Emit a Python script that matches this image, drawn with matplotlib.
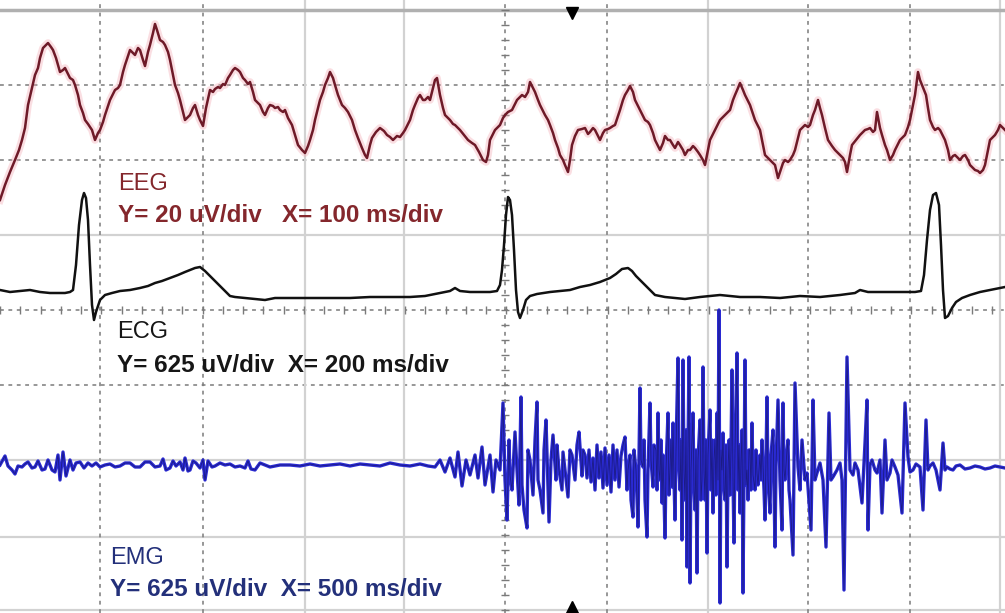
import matplotlib
matplotlib.use("Agg")
import matplotlib.pyplot as plt
import numpy as np

# ---------------- data (screen units) ----------------
eeg_t = [0,5,10,15,19,22,25,28,31,35,38,40,43,46,48,51,53,56,60,63,65,68,70,73,75,78,80,83,85,88,92,95,98,100,103,105,108,110,113,115,118,120,123,125,128,130,133,135,138,140,143,145,148,150,153,155,157,160,163,165,168,170,173,175,178,180,183,185,188,190,193,195,198,200,203,206,210,213,215,218,220,223,225,228,230,233,235,238,240,243,245,248,250,253,255,258,260,263,265,268,270,273,275,278,280,283,285,288,292,295,298,302,305,308,310,313,315,318,320,323,325,328,330,333,335,338,342,345,348,352,355,358,362,365,367,370,372,376,380,384,387,390,393,397,400,403,405,408,410,413,415,418,420,423,425,428,430,433,435,437,440,443,445,448,450,453,455,458,460,464,468,472,475,479,483,486,488,490,493,495,498,500,503,505,508,512,515,517,520,522,525,528,530,533,535,538,540,543,545,548,550,553,555,558,560,563,565,568,570,572,575,578,582,585,588,590,593,595,598,600,603,605,608,610,613,615,618,620,623,625,628,630,633,635,638,640,643,645,648,650,653,655,658,660,663,665,668,670,673,675,678,680,683,685,688,690,693,695,698,700,703,705,708,710,713,715,718,720,723,725,728,730,733,735,738,740,743,745,748,750,753,755,758,760,763,765,768,770,773,775,778,780,783,785,788,790,793,795,798,800,803,805,808,810,813,815,818,820,822,825,828,832,835,838,840,843,845,847,850,852,856,860,863,865,868,870,873,875,877,880,882,885,887,890,893,895,898,900,903,905,908,910,913,915,918,920,922,924,926,928,930,933,935,938,940,943,945,948,950,953,955,958,960,963,965,968,970,973,975,978,980,983,985,988,990,993,995,998,1000,1003,1005]
eeg_v = [200,185,172,160,150,140,128,105,92,75,68,58,48,45,43,47,50,58,72,70,68,74,78,80,85,95,105,113,120,124,130,140,133,130,122,115,106,100,94,90,88,85,72,65,56,50,53,55,48,50,60,66,52,45,33,24,30,40,42,45,52,60,75,85,93,100,112,120,117,115,108,105,115,120,126,108,90,92,89,87,88,84,85,78,75,70,68,70,72,78,80,84,82,92,100,103,105,112,115,108,105,106,108,107,110,112,110,118,125,135,145,150,153,146,140,130,120,108,100,92,85,78,72,78,85,95,105,108,112,120,130,138,148,155,158,145,138,132,128,131,135,137,140,136,137,133,130,124,120,110,105,98,95,100,100,97,100,88,80,78,95,108,115,118,120,124,125,128,130,135,140,143,145,152,160,162,155,140,134,130,127,125,118,115,112,110,104,100,97,95,97,92,82,88,92,100,105,111,115,120,125,133,140,148,155,160,165,172,160,145,136,130,129,128,134,132,128,130,136,140,133,130,129,128,126,125,116,110,100,95,90,86,92,100,106,110,116,120,122,125,133,140,146,150,143,136,140,140,145,148,142,145,150,155,150,150,146,148,152,155,160,165,150,140,134,130,124,120,117,115,112,110,100,95,88,83,90,95,101,105,114,120,126,130,145,155,158,160,163,165,178,172,163,160,162,160,155,150,138,130,127,125,127,125,115,110,100,108,115,128,140,146,150,153,155,158,162,172,155,145,140,135,132,130,129,128,132,130,112,128,135,145,150,160,155,150,144,140,137,135,127,120,105,95,72,80,85,90,95,108,120,127,130,128,130,136,140,150,160,156,155,158,160,156,155,160,165,168,170,171,173,170,165,150,140,137,135,130,125,128,130]

ecg_t = [0,10,20,30,40,50,60,65,70,73,76,79,82,84,86,88,90,92,94,96,100,105,112,120,130,140,148,155,162,170,178,185,190,195,200,205,210,215,220,225,230,235,245,255,265,275,290,310,330,350,370,390,410,425,440,450,455,460,470,480,490,497,500,502,504,506,508,510,512,514,516,518,520,523,526,530,537,550,560,570,580,590,600,610,616,622,628,632,636,640,645,650,655,665,675,685,700,720,740,760,780,800,820,840,855,860,868,880,900,915,921,924,927,930,933,936,939,941,943,945,948,952,956,962,970,980,990,1005]
ecg_v = [290,292,291,290,292,293,293,293,292,290,265,225,200,193,198,220,265,305,320,312,300,295,293,291,290,288,286,283,281,278,275,272,270,268,267,271,276,281,286,291,296,297,298,299,300,298,298,298,298,298,297,297,297,296,293,291,288,291,292,292,292,291,285,270,245,215,197,200,215,250,290,312,318,310,300,296,294,292,291,290,287,285,282,278,274,269,268,271,276,280,285,290,295,297,298,299,297,295,297,297,298,296,297,295,293,290,292,292,292,292,291,275,240,210,195,193,205,245,290,318,316,308,302,298,295,292,290,287]

emg_t = [0,5,8,12,15,18,22,25,28,32,35,38,42,45,48,52,55,58,60,63,66,70,73,76,80,84,88,92,96,100,105,110,115,120,125,130,135,140,145,150,155,160,163,166,170,173,176,180,183,185,188,190,193,196,200,203,205,208,212,215,220,225,230,235,240,245,248,251,255,260,265,270,280,290,300,310,320,330,340,350,360,370,380,390,400,410,420,428,435,440,445,450,455,458,462,466,470,475,478,482,485,490,493,496,500,503,505,507,509,510,512,515,517,519,521,522,524,527,528,530,533,535,537,538,540,543,544,546,549,551,553,556,557,559,562,563,565,568,570,572,575,577,579,582,583,585,587,589,591,593,595,597,599,601,603,605,607,609,611,613,615,617,619,621,623,625,627,628,630,631,633,634,636,638,640,641,643,644,645,647,648,650,651,653,654,656,657,658,659,660,661,662,663,665,666,668,669,670,671,672,673,674,675,676,678,679,680,681,682,683,684,685,686,687,688,689,690,691,692,693,694,695,696,697,698,700,701,702,703,704,705,706,707,708,710,711,712,713,714,715,716,717,718,719,720,721,722,723,724,725,726,727,728,729,730,731,732,733,734,735,737,738,739,740,741,742,743,744,745,746,747,748,749,750,751,752,753,755,756,757,758,760,761,762,764,765,766,767,768,770,771,773,774,775,776,778,780,782,783,784,785,787,788,789,790,793,795,798,800,802,805,807,811,813,815,817,820,823,826,829,831,833,837,840,842,844,847,850,853,855,858,862,865,867,868,870,872,875,877,880,882,885,887,890,892,895,898,902,905,908,910,913,916,920,923,926,928,930,933,936,940,943,945,947,950,953,956,960,965,970,975,980,985,990,995,1000,1005]
emg_v = [465,456,466,470,474,466,467,464,462,468,467,461,470,469,460,470,472,455,480,452,476,460,470,463,462,468,463,466,463,467,465,464,467,466,463,463,467,467,462,462,467,466,459,470,468,461,466,462,470,458,471,470,461,463,468,460,480,461,467,466,463,465,464,467,466,468,461,469,470,463,465,467,465,465,466,464,466,465,464,466,464,465,466,463,465,466,464,466,467,460,472,458,477,452,486,460,475,455,478,447,485,455,492,460,470,403,480,520,440,475,490,432,470,505,397,485,510,528,450,460,495,440,402,480,490,513,450,420,522,460,435,480,445,470,490,452,470,497,450,455,480,445,432,476,450,455,478,450,482,458,490,445,478,452,488,448,485,455,492,445,480,450,487,456,445,437,490,470,455,500,517,450,470,527,388,460,467,440,500,537,470,403,460,487,445,450,490,413,470,480,440,503,455,538,470,413,495,470,440,487,423,480,520,450,358,470,490,440,540,360,470,500,430,567,450,357,583,470,440,413,490,510,450,573,460,420,500,480,367,470,500,440,553,455,410,490,440,513,460,440,495,413,480,310,603,450,470,433,490,500,445,567,470,440,495,450,370,480,543,450,353,490,445,513,460,430,593,470,360,485,470,500,450,450,490,423,475,490,450,473,485,455,480,440,490,520,460,397,480,513,455,430,490,547,465,400,480,530,403,470,480,450,440,490,500,555,383,467,490,440,480,473,530,400,480,473,463,480,547,413,480,477,470,463,480,590,357,470,475,463,470,503,443,400,530,465,460,470,473,460,513,440,480,473,460,467,475,513,403,457,472,470,464,467,510,420,470,466,463,470,490,443,470,467,469,470,466,465,469,468,466,467,469,468,466,467,468]

labels = [
    ("EEG", "Y= 20 uV/div   X= 100 ms/div", "#84272c"),
    ("ECG", "Y= 625 uV/div  X= 200 ms/div", "#161616"),
    ("EMG", "Y= 625 uV/div  X= 500 ms/div", "#23307a"),
]

# ---------------- figure ----------------
W, H = 1005, 613
fig = plt.figure(figsize=(W / 100, H / 100), dpi=100)
ax = fig.add_axes([0, 0, 1, 1])
ax.set_xlim(0, W)
ax.set_ylim(H, 0)
ax.axis("off")
fig.patch.set_facecolor("white")

dash_kw = dict(color="#7a7a7a", lw=1.1, ls=(0, (2.5, 3)), zorder=1)
light_kw = dict(color="#d2d2d2", lw=1.6, ls="-", zorder=1)

h_dashed = [85, 160, 310, 385]
h_light = [235, 460, 537, 610]
v_dashed = [100, 203, 505, 607, 808, 910]
v_light = [305, 404, 708, 1000]
for y in h_dashed:
    ax.axhline(y, **dash_kw)
for y in h_light:
    ax.axhline(y, **light_kw)
for x in v_dashed:
    ax.axvline(x, **dash_kw)
for x in v_light:
    ax.axvline(x, **light_kw)
ax.axhline(10, color="#b0b0b0", lw=2.5, zorder=1)

# centre graticule minor ticks
hx = np.arange(0, W, 101.25 / 5)
ax.vlines(hx, 306, 314, color="#7a7a7a", lw=1, zorder=1)
vy = np.arange(10, 612, 75 / 5)
ax.hlines(vy, 501, 509, color="#7a7a7a", lw=1, zorder=1)

# trigger markers
ax.plot([572], [13], marker="v", color="black", ms=9, zorder=5, clip_on=False)
ax.plot([572], [607], marker="^", color="black", ms=9, zorder=5, clip_on=False)

# traces
ax.plot(eeg_t, eeg_v, color="#f2a3ad", lw=5.5, alpha=0.35, zorder=2, solid_joinstyle="round")
ax.plot(eeg_t, eeg_v, color="#6e1a28", lw=1.8, zorder=3)

ax.plot(ecg_t, ecg_v, color="#111111", lw=1.8, zorder=3)

ax.plot(emg_t, emg_v, color="#2a2ad2", lw=2.4, zorder=2)
ax.plot(emg_t, emg_v, color="#16166a", lw=0.6, alpha=0.75, zorder=3)

# labels
fam = ["Liberation Sans Narrow", "Liberation Sans", "DejaVu Sans"]
label_pos = [(118, 184, 216), (117, 332, 366), (110, 558, 590)]
for (name, scale, col), (x, y1, y2) in zip(labels, label_pos):
    ax.text(x, y1, name, color=col, fontsize=17, family=fam, va="center", ha="left", zorder=6)
    ax.text(x, y2, scale, color=col, fontsize=17.5, family=fam, fontweight="bold",
            va="center", ha="left", zorder=6)

fig.savefig("out.png", dpi=100)
